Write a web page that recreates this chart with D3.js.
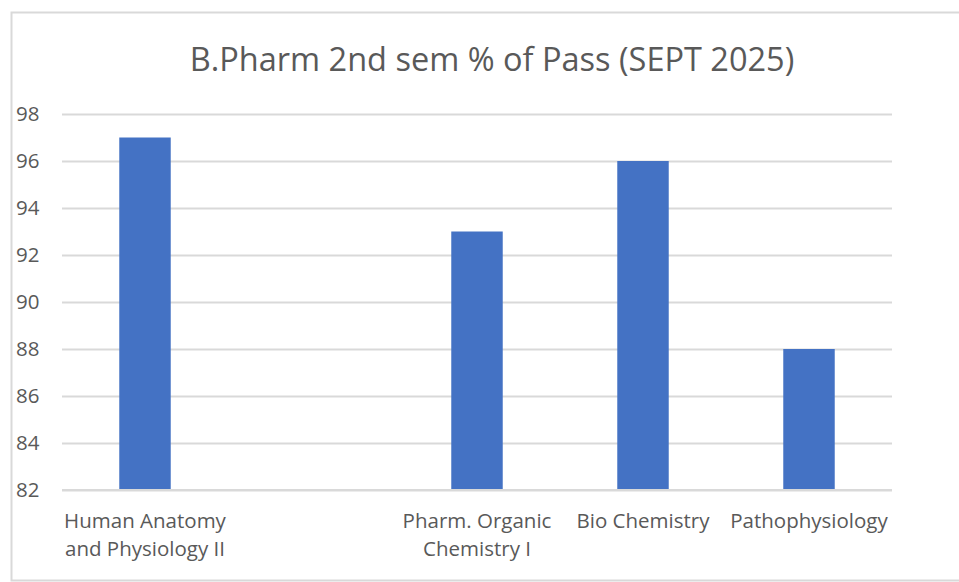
<!DOCTYPE html>
<html>
<head>
<meta charset="utf-8">
<script src="https://d3js.org/d3.v7.min.js"></script>
<style>
  body { margin: 0; background: #fff; }
  svg { display: block; }
</style>
</head>
<body>
<div id="chart"></div>
<script>
// chart data
let title = "B.Pharm 2nd sem % of Pass (SEPT 2025)";
let subjects = [
    ["Human Anatomy", "and Physiology II"],
    [],
    ["Pharm. Organic", "Chemistry I"],
    ["Bio Chemistry"],
    ["Pathophysiology"]
];
let passPercent = [97, null, 93, 96, 88];
let yTicks = [82, 84, 86, 88, 90, 92, 94, 96, 98];

let svgWidth = 959, svgHeight = 582;
let margin = {top: 114, right: 67, bottom: 92, left: 62};
let width = svgWidth - margin.left - margin.right,
    height = svgHeight - margin.top - margin.bottom;
let font = "'Open Sans', sans-serif";

let svg = d3.select("#chart").append("svg")
    .attr("width", svgWidth)
    .attr("height", svgHeight);

// outer chart frame
svg.append("rect")
    .attr("x", 11.5).attr("y", 12.5)
    .attr("width", svgWidth)
    .attr("height", svgHeight - 14)
    .attr("fill", "none")
    .attr("stroke", "#d9d9d9")
    .attr("stroke-width", 2);

svg.append("text")
    .attr("x", 492)
    .attr("y", 71)
    .attr("text-anchor", "middle")
    .attr("font-family", font)
    .attr("font-size", "32.5px")
    .attr("fill", "#595959")
    .text(title);

let g = svg.append("g")
    .attr("transform", "translate(" + margin.left + "," + margin.top + ")");

let x = d3.scaleBand()
    .domain(d3.range(subjects.length))
    .range([0, width])
    .padding(0);
let y = d3.scaleLinear()
    .domain([82, 98])
    .range([height, 0]);

// gridlines
g.append("g")
    .call(d3.axisLeft(y).tickValues(yTicks).tickSize(-width).tickFormat(""))
    .call(a => a.select(".domain").remove())
    .call(a => a.selectAll("line").attr("stroke", "#d9d9d9").attr("stroke-width", 2));

// y tick labels
g.append("g")
    .call(d3.axisLeft(y).tickValues(yTicks).tickSize(0))
    .call(a => a.select(".domain").remove())
    .call(a => a.selectAll("text")
        .attr("text-anchor", "start")
        .attr("x", -46)
        .attr("font-family", font)
        .attr("font-size", "20.5px")
        .attr("fill", "#595959"));

// bars
let barW = x.bandwidth() * 0.31;
g.selectAll(".bar")
    .data(passPercent.map((v, i) => ({i: i, v: v})).filter(d => d.v != null))
    .enter()
    .append("rect")
    .attr("class", "bar")
    .attr("x", d => x(d.i) + x.bandwidth() / 2 - barW / 2)
    .attr("y", d => y(d.v))
    .attr("width", barW)
    .attr("height", d => height - y(d.v))
    .attr("fill", "#4472c4");

// x axis line
g.append("line")
    .attr("x1", 0).attr("x2", width)
    .attr("y1", height).attr("y2", height)
    .attr("stroke", "#d9d9d9")
    .attr("stroke-width", 2);

// category labels
let labels = g.selectAll(".xlab")
    .data(subjects)
    .enter()
    .append("text")
    .attr("class", "xlab")
    .attr("text-anchor", "middle")
    .attr("font-family", font)
    .attr("font-size", "20.5px")
    .attr("fill", "#595959")
    .attr("transform", (d, i) => "translate(" + (x(i) + x.bandwidth() / 2) + "," + (height + 38) + ")");

labels.selectAll("tspan")
    .data(d => d)
    .enter()
    .append("tspan")
    .attr("x", 0)
    .attr("dy", (d, i) => i === 0 ? 0 : 28)
    .text(d => d);
</script>
</body>
</html>
